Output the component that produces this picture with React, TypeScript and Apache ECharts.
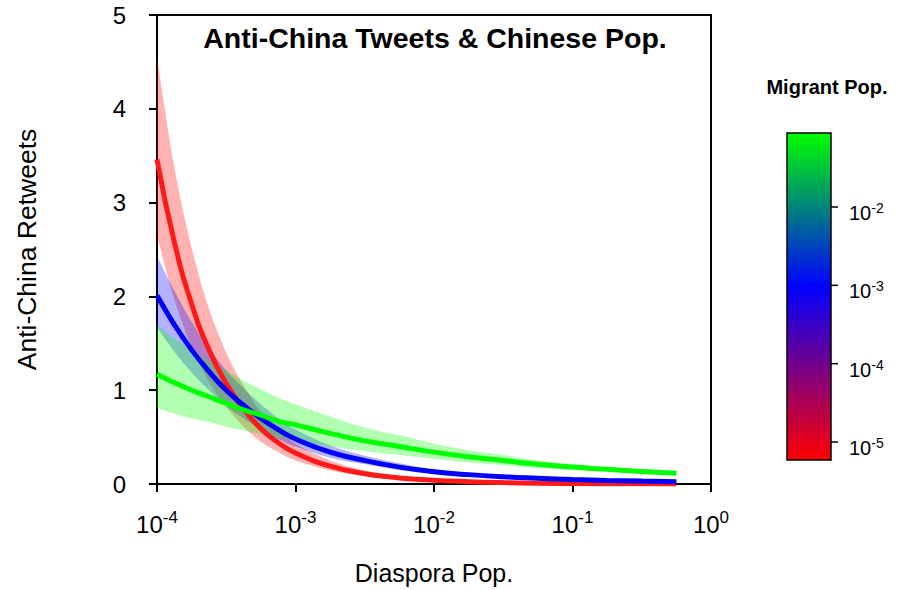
import React, { useEffect, useRef } from "react";
import * as echarts from "echarts";

const FONT = "'Liberation Sans', Arial, Helvetica, sans-serif";

// Diaspora population (x positions of the fitted curves)
const diasporaPop = [
  0.0001, 0.00013335, 0.00017783, 0.00023714, 0.00031623, 0.0004217, 0.00056234, 0.00074989,
  0.001, 0.0017783, 0.0031623, 0.0056234, 0.01, 0.017783, 0.031623, 0.056234, 0.1, 0.17783,
  0.31623, 0.56234,
];

// Low migrant population (red)
const redFit = [3.46, 2.58, 1.92, 1.43, 1.07, 0.8, 0.59, 0.44, 0.33, 0.19, 0.11, 0.065, 0.04, 0.025, 0.015, 0.009, 0.005, 0.003, 0.002, 0.001];
const redUpper = [4.55, 3.38, 2.52, 1.87, 1.4, 1.05, 0.77, 0.58, 0.43, 0.25, 0.144, 0.085, 0.052, 0.033, 0.02, 0.012, 0.007, 0.004, 0.003, 0.001];
const redLower = [2.64, 1.97, 1.46, 1.09, 0.82, 0.61, 0.45, 0.34, 0.25, 0.145, 0.084, 0.05, 0.031, 0.019, 0.011, 0.007, 0.004, 0.002, 0.002, 0.001];

// Medium migrant population (blue)
const blueFit = [2.01, 1.7, 1.43, 1.2, 1.0, 0.84, 0.7, 0.58, 0.48, 0.34, 0.25, 0.18, 0.13, 0.1, 0.078, 0.062, 0.048, 0.038, 0.031, 0.025];
const blueUpper = [2.43, 2.06, 1.73, 1.45, 1.21, 1.02, 0.85, 0.7, 0.58, 0.41, 0.3, 0.22, 0.157, 0.121, 0.094, 0.075, 0.058, 0.046, 0.037, 0.03];
const blueLower = [1.67, 1.41, 1.19, 1.0, 0.83, 0.7, 0.58, 0.48, 0.4, 0.28, 0.21, 0.15, 0.108, 0.083, 0.065, 0.051, 0.04, 0.032, 0.026, 0.021];

// High migrant population (green)
const greenFit = [1.17, 1.08, 1.0, 0.93, 0.86, 0.79, 0.735, 0.67, 0.63, 0.54, 0.46, 0.4, 0.34, 0.29, 0.25, 0.21, 0.18, 0.156, 0.134, 0.114];
const greenUpper = [1.69, 1.55, 1.43, 1.31, 1.21, 1.1, 1.01, 0.92, 0.85, 0.72, 0.6, 0.52, 0.43, 0.36, 0.31, 0.25, 0.21, 0.18, 0.155, 0.129];
const greenLower = [0.81, 0.75, 0.7, 0.66, 0.61, 0.57, 0.53, 0.49, 0.46, 0.4, 0.35, 0.31, 0.27, 0.23, 0.2, 0.17, 0.15, 0.133, 0.116, 0.1];

// Colour bar (Migrant Pop.), log10 units
const migrantTickExps = [-2, -3, -4, -5];
const migrantLogRange = [-5.23, -1.055];
const migrantColorStops = [
  { offset: 0, color: "#00ff00" },
  { offset: 0.47, color: "#0000ff" },
  { offset: 1, color: "#ff0000" },
];

const TITLE = "Anti-China Tweets & Chinese Pop.";
const LEGEND_TITLE = "Migrant Pop.";
const X_NAME = "Diaspora Pop.";
const Y_NAME = "Anti-China Retweets";

function curveTo(pts: number[][]): string {
  let d = "";
  for (let i = 0; i < pts.length - 1; i++) {
    const p0 = pts[i - 1] || pts[i];
    const p1 = pts[i];
    const p2 = pts[i + 1];
    const p3 = pts[i + 2] || p2;
    const c1x = p1[0] + (p2[0] - p0[0]) / 6;
    const c1y = p1[1] + (p2[1] - p0[1]) / 6;
    const c2x = p2[0] - (p3[0] - p1[0]) / 6;
    const c2y = p2[1] - (p3[1] - p1[1]) / 6;
    d += ` C${c1x},${c1y} ${c2x},${c2y} ${p2[0]},${p2[1]}`;
  }
  return d;
}

function bandSeries(name: string, lower: number[], upper: number[], color: string) {
  return {
    type: "custom",
    name,
    silent: true,
    data: diasporaPop.map((x, i) => [x, lower[i], upper[i]]),
    encode: { x: 0, y: [1, 2] },
    renderItem: (params: any, api: any) => {
      if (params.dataIndex !== 0) return null;
      const up = diasporaPop.map((x, i) => api.coord([x, upper[i]]));
      const lo = diasporaPop.map((x, i) => api.coord([x, lower[i]])).reverse();
      const d =
        `M${up[0][0]},${up[0][1]}` +
        curveTo(up) +
        ` L${lo[0][0]},${lo[0][1]}` +
        curveTo(lo) +
        " Z";
      return { type: "path", shape: { pathData: d }, style: { fill: color } };
    },
  };
}

function lineSeries(name: string, values: number[], color: string) {
  return {
    type: "line",
    name,
    silent: true,
    data: diasporaPop.map((x, i) => [x, values[i]]),
    smooth: true,
    symbol: "none",
    lineStyle: { color, width: 5 },
  };
}

export default function App() {
  const ref = useRef<HTMLDivElement>(null);

  useEffect(() => {
    if (!ref.current) return;
    const chart = echarts.init(ref.current, null, { renderer: "svg" });

    const cb = { x: 787, y: 133, w: 44, h: 327 };
    const cbY = (lg: number) =>
      cb.y + ((migrantLogRange[1] - lg) / (migrantLogRange[1] - migrantLogRange[0])) * cb.h;

    const cbGraphics: any[] = [
      {
        type: "rect",
        shape: { x: cb.x, y: cb.y, width: cb.w, height: cb.h },
        style: {
          fill: new echarts.graphic.LinearGradient(0, 0, 0, 1, migrantColorStops),
          stroke: "#000",
          lineWidth: 1.5,
        },
      },
    ];
    migrantTickExps.forEach((e) => {
      const y = cbY(e);
      cbGraphics.push({
        type: "line",
        shape: { x1: cb.x + cb.w, y1: y, x2: cb.x + cb.w + 7, y2: y },
        style: { stroke: "#000", lineWidth: 1.5 },
      });
      cbGraphics.push({
        type: "text",
        x: cb.x + cb.w + 18,
        y: y + 6,
        style: {
          text: `{b|10}{s|${e}}`,
          align: "left",
          verticalAlign: "middle",
          rich: {
            b: { fontSize: 20, lineHeight: 24, fontFamily: FONT, fill: "#000", color: "#000" },
            s: { fontSize: 14, lineHeight: 12, verticalAlign: "top", fontFamily: FONT, fill: "#000", color: "#000" },
          },
        },
      });
    });

    chart.setOption({
      animation: false,
      backgroundColor: "#fff",
      grid: {
        left: 157,
        top: 15,
        right: 188,
        bottom: 102,
        show: true,
        borderColor: "#000",
        borderWidth: 2,
        backgroundColor: "transparent",
      },
      xAxis: {
        type: "log",
        logBase: 10,
        min: 0.0001,
        max: 1,
        axisLine: { show: true, lineStyle: { color: "#000", width: 2 } },
        axisTick: { show: true, inside: false, length: 8, lineStyle: { color: "#000", width: 2 } },
        splitLine: { show: false },
        minorTick: { show: false },
        axisLabel: {
          margin: 25,
          formatter: (v: number) => `{b|10}{s|${Math.round(Math.log10(v))}}`,
          rich: {
            b: { fontSize: 24, lineHeight: 30, fontFamily: FONT, color: "#000" },
            s: { fontSize: 17, lineHeight: 14, verticalAlign: "top", fontFamily: FONT, color: "#000" },
          },
        },
        name: X_NAME,
        nameLocation: "middle",
        nameGap: 76,
        nameTextStyle: { fontSize: 25, color: "#000", fontFamily: FONT },
      },
      yAxis: {
        type: "value",
        min: 0,
        max: 5,
        interval: 1,
        axisLine: { show: true, lineStyle: { color: "#000", width: 2 } },
        axisTick: { show: true, inside: false, length: 8, lineStyle: { color: "#000", width: 2 } },
        splitLine: { show: false },
        axisLabel: { fontSize: 24, color: "#000", margin: 31, fontFamily: FONT },
        name: Y_NAME,
        nameLocation: "middle",
        nameGap: 117,
        nameRotate: 90,
        nameTextStyle: { fontSize: 26.5, color: "#000", fontFamily: FONT },
      },
      graphic: [
        {
          type: "text",
          x: 435,
          y: 38,
          style: {
            text: TITLE,
            fontSize: 28.5,
            fontWeight: "bold",
            fontFamily: FONT,
            fill: "#000",
            align: "center",
            verticalAlign: "middle",
          },
        },
        {
          type: "text",
          x: 827,
          y: 87,
          style: {
            text: LEGEND_TITLE,
            fontSize: 20,
            fontWeight: "bold",
            fontFamily: FONT,
            fill: "#000",
            align: "center",
            verticalAlign: "middle",
          },
        },
        ...cbGraphics,
      ],
      series: [
        bandSeries("redBand", redLower, redUpper, "rgba(255,0,0,0.3)"),
        lineSeries("red", redFit, "#ff1a1a"),
        bandSeries("blueBand", blueLower, blueUpper, "rgba(0,0,255,0.3)"),
        lineSeries("blue", blueFit, "#0000ff"),
        bandSeries("greenBand", greenLower, greenUpper, "rgba(0,255,0,0.3)"),
        lineSeries("green", greenFit, "#00ff00"),
      ],
    });

    return () => chart.dispose();
  }, []);

  return (
    <div
      ref={ref}
      style={{ position: "absolute", left: 0, top: 0, width: 899, height: 590 }}
    />
  );
}
